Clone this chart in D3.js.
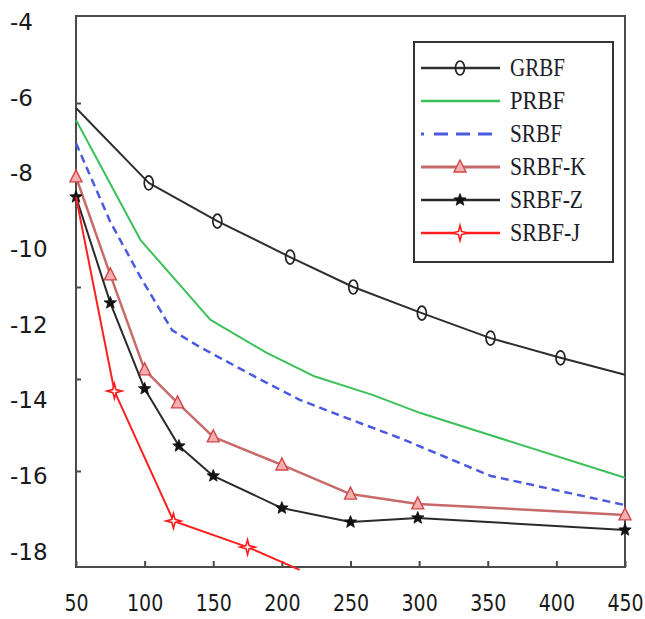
<!DOCTYPE html>
<html><head><meta charset="utf-8">
<script src="https://cdn.jsdelivr.net/npm/d3@7"></script>
<style>body{margin:0;background:#fff}svg{display:block}</style>
</head><body>
<svg id="c" width="645" height="619"></svg>
<script>
// ---- data ----
const seriesNames = ["GRBF","PRBF","SRBF","SRBF-K","SRBF-Z","SRBF-J"];
const grbfX = [50,103,153,206,252,302,352,403,450];
const grbfY = [-6.27,-8.25,-9.26,-10.21,-11.00,-11.69,-12.35,-12.87,-13.32];
const prbfX = [50,97,148,189,223,266,301,450];
const prbfY = [-6.59,-9.76,-11.87,-12.74,-13.35,-13.85,-14.33,-16.04];
const srbfX = [50,75,97,120,140,182,213,245,286,352,450];
const srbfY = [-7.20,-9.28,-10.74,-12.14,-12.58,-13.40,-13.98,-14.43,-14.99,-15.99,-16.76];
const srbfKX = [50,75,100,124,150,200,250,299,450];
const srbfKY = [-8.09,-10.68,-13.19,-14.06,-14.96,-15.70,-16.47,-16.73,-17.02];
const srbfZX = [50,75,100,125,150,200,250,299,450];
const srbfZY = [-8.62,-11.42,-13.69,-15.20,-15.99,-16.84,-17.21,-17.10,-17.42];
const srbfJX = [50,78,121,175,213];
const srbfJY = [-8.62,-13.75,-17.18,-17.87,-18.47];
const xTickLabels = [50,100,150,200,250,300,350,400,450];
const yTickLabels = [-4,-6,-8,-10,-12,-14,-16,-18];
const yTickMarks = [-6.14,-8.57,-11.0,-13.43,-15.86];

// ---- layout ----
const svg = d3.select("#c");
const L = 76, R = 625, T = 16, B = 567;
const x = d3.scaleLinear().domain([50,450]).range([L,R]);
const y = d3.scaleLinear().domain([-4,-18]).range([22,552]);

function star(n, ro, ri){
  const p=[];
  for(let i=0;i<2*n;i++){
    const r = i%2? ri: ro;
    const a = -Math.PI/2 + i*Math.PI/n;
    p.push([r*Math.cos(a), r*Math.sin(a)]);
  }
  return "M"+p.map(d=>d[0].toFixed(2)+","+d[1].toFixed(2)).join("L")+"Z";
}
const markers = {
  ellipse: g => g.append("ellipse").attr("rx",4.5).attr("ry",7).attr("fill","none").attr("stroke","#222").attr("stroke-width",1.7),
  tri: g => g.append("path").attr("d","M0,-7L6,5L-6,5Z").attr("fill","#f4b0b0").attr("stroke","#d04848").attr("stroke-width",1.4),
  star5: g => g.append("path").attr("d",star(5,6.5,2.8)).attr("fill","#111").attr("stroke","#111").attr("stroke-width",0.8),
  star4: g => g.append("path").attr("d",star(4,7.5,2.2)).attr("fill","#fff").attr("stroke","#ff1a1a").attr("stroke-width",1.6)
};

const series = [
  {name:seriesNames[0], xs:grbfX, ys:grbfY, color:"#2e2e2e", w:2, dash:null, marker:"ellipse", mIdx:[1,2,3,4,5,6,7]},
  {name:seriesNames[1], xs:prbfX, ys:prbfY, color:"#3cc05a", w:2, dash:null, marker:null, mIdx:[]},
  {name:seriesNames[2], xs:srbfX, ys:srbfY, color:"#4a5ae0", w:2.5, dash:"8,5", marker:null, mIdx:[]},
  {name:seriesNames[3], xs:srbfKX, ys:srbfKY, color:"#c86a6a", w:2.5, dash:null, marker:"tri", mIdx:[0,1,2,3,4,5,6,7,8]},
  {name:seriesNames[4], xs:srbfZX, ys:srbfZY, color:"#2a2a2a", w:2, dash:null, marker:"star5", mIdx:[0,1,2,3,4,5,6,7,8]},
  {name:seriesNames[5], xs:srbfJX, ys:srbfJY, color:"#ff2020", w:2, dash:null, marker:"star4", mIdx:[1,2,3]}
];

// frame
svg.append("rect").attr("x",L).attr("y",T).attr("width",R-L).attr("height",B-T)
  .attr("fill","none").attr("stroke","#4a4a4a").attr("stroke-width",2);

// x axis (inward ticks)
const xAxis = svg.append("g").attr("transform",`translate(0,${B})`)
  .call(d3.axisBottom(x).tickValues(xTickLabels).tickSize(-6).tickPadding(0).tickFormat(d => String(d)));
xAxis.select(".domain").remove();
xAxis.selectAll("line").attr("stroke","#4a4a4a").attr("stroke-width",2);
xAxis.selectAll("text").attr("y",37).attr("dy",0).attr("transform","scale(1,1.2)")
  .attr("font-family","DejaVu Sans").attr("font-size",19).attr("fill","#1a1a1a");

// y tick marks (inward)
const yMarks = svg.append("g").attr("transform",`translate(${L},0)`)
  .call(d3.axisRight(y).tickValues(yTickMarks).tickSize(5).tickFormat(""));
yMarks.select(".domain").remove();
yMarks.selectAll("line").attr("stroke","#4a4a4a").attr("stroke-width",2);

// y labels
const yAxis = svg.append("g").attr("transform","translate(10,0)")
  .call(d3.axisLeft(y).tickValues(yTickLabels).tickSize(0).tickPadding(0).tickFormat(d => String(d)));
yAxis.select(".domain").remove();
yAxis.selectAll("text").attr("text-anchor","start").attr("x",0)
  .attr("font-family","DejaVu Sans").attr("font-size",23).attr("fill","#1a1a1a");

// lines
const line = d3.line();
series.forEach(s=>{
  const pts = s.xs.map((v,i)=>[x(v), y(s.ys[i])]);
  svg.append("path").attr("d",line(pts)).attr("fill","none").attr("stroke",s.color)
    .attr("stroke-width",s.w).attr("stroke-dasharray",s.dash).attr("stroke-linejoin","round");
  if(s.marker){
    s.mIdx.forEach(i=>{
      const g = svg.append("g").attr("transform",`translate(${pts[i][0]},${pts[i][1]})`);
      markers[s.marker](g);
    });
  }
});

// legend
const lg = svg.append("g");
lg.append("rect").attr("x",414).attr("y",42).attr("width",199).attr("height",220)
  .attr("fill","#fff").attr("stroke","#333").attr("stroke-width",2);
const textLens = [55,55,52,76,73,70];
const legendY = d3.scalePoint().domain(seriesNames).range([68,233]);
series.forEach((s,i)=>{
  const cy = legendY(s.name);
  lg.append("line").attr("x1",421).attr("x2",500).attr("y1",cy).attr("y2",cy)
    .attr("stroke",s.color).attr("stroke-width",s.w+0.5)
    .attr("stroke-dasharray", s.dash? "3,10,14,8,14,8,14,8,3" : null);
  if(s.marker){ markers[s.marker](lg.append("g").attr("transform",`translate(460,${cy})`)); }
  lg.append("text").attr("x",510).attr("y",cy+8).text(s.name)
    .attr("font-family","Liberation Serif").attr("font-size",25).attr("fill","#1c1c28")
    .attr("textLength",textLens[i]).attr("lengthAdjust","spacingAndGlyphs");
});
</script>
</body></html>
